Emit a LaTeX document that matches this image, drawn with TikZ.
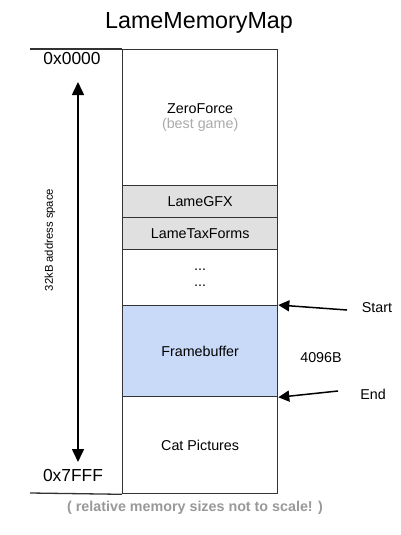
\documentclass[tikz,border=0pt]{standalone}
\usepackage{fontspec}
\setmainfont{Liberation Sans}
\usetikzlibrary{arrows.meta}
\definecolor{cellgray}{HTML}{E0E0E0}
\definecolor{cellblue}{HTML}{C9DAF8}
\definecolor{edge}{HTML}{333333}
\definecolor{lighttext}{HTML}{AAAAAA}
\definecolor{foottext}{HTML}{999999}
\begin{document}
\begin{tikzpicture}[x=1pt,y=-1pt,
  cell/.style={draw=edge, line width=1.3pt, minimum width=155pt, anchor=north west, inner sep=0pt, align=center, font=\fontsize{14.3}{14.5}\selectfont},
  lbl/.style={font=\fontsize{14.3}{16}\selectfont, inner sep=0pt},
  addr/.style={font=\fontsize{17.4}{20}\selectfont, inner sep=0pt},
  ptr/.style={-{Triangle[length=11pt,width=11pt]}, line width=1.5pt}]
\useasboundingbox (0,0) rectangle (400,535);
\node[font=\fontsize{23.3}{26}\selectfont, inner sep=0pt] (title) at (199,23) {LameMemoryMap};
\node[cell, minimum height=136pt] (zero) at (122,49) {ZeroForce\\\textcolor{lighttext}{(best game)}};
\node[cell, minimum height=32pt, fill=cellgray] (gfx) at (122,185) {LameGFX};
\node[cell, minimum height=32pt, fill=cellgray] (tax) at (122,217) {LameTaxForms};
\node[cell, minimum height=56pt] (dots) at (122,249) {...\\[2pt]...};
\node[cell, minimum height=91pt, fill=cellblue] (fb) at (122,305) {Framebuffer};
\node[cell, minimum height=97pt] (cat) at (122,396) {Cat Pictures};
\coordinate (tl) at (30,49);
\coordinate (bl) at (30,493);
\draw[edge, line width=1.3pt] (tl) -- (zero.north west);
\draw[edge, line width=1.3pt] (bl) -- (cat.south west);
\node[addr] (a0) at (72,59) {0x0000};
\node[addr] (a7) at (73,476) {0x7FFF};
\coordinate (atop) at (78,82);
\coordinate (abot) at (78,462);
\draw[{Triangle[length=13pt,width=12pt]}-{Triangle[length=13pt,width=12pt]}, line width=1.6pt] (atop) -- (abot);
\node[font=\fontsize{11.3}{13}\selectfont, inner sep=0pt, rotate=90] (space) at (50,240) {32kB address space};
\node[lbl] (start) at (377,308) {Start};
\node[lbl] (end) at (373,394) {End};
\node[lbl] (size) at (321,358) {4096B};
\coordinate (sfrom) at (347,310);
\coordinate (efrom) at (338,391);
\draw[ptr] (sfrom) -- (fb.north east);
\draw[ptr] (efrom) -- (fb.south east);
\node[font=\bfseries\fontsize{14.3}{16}\selectfont, text=foottext, inner sep=0pt] (foot) at (195,508) {( relative memory sizes not to scale! )};
\end{tikzpicture}
\end{document}
